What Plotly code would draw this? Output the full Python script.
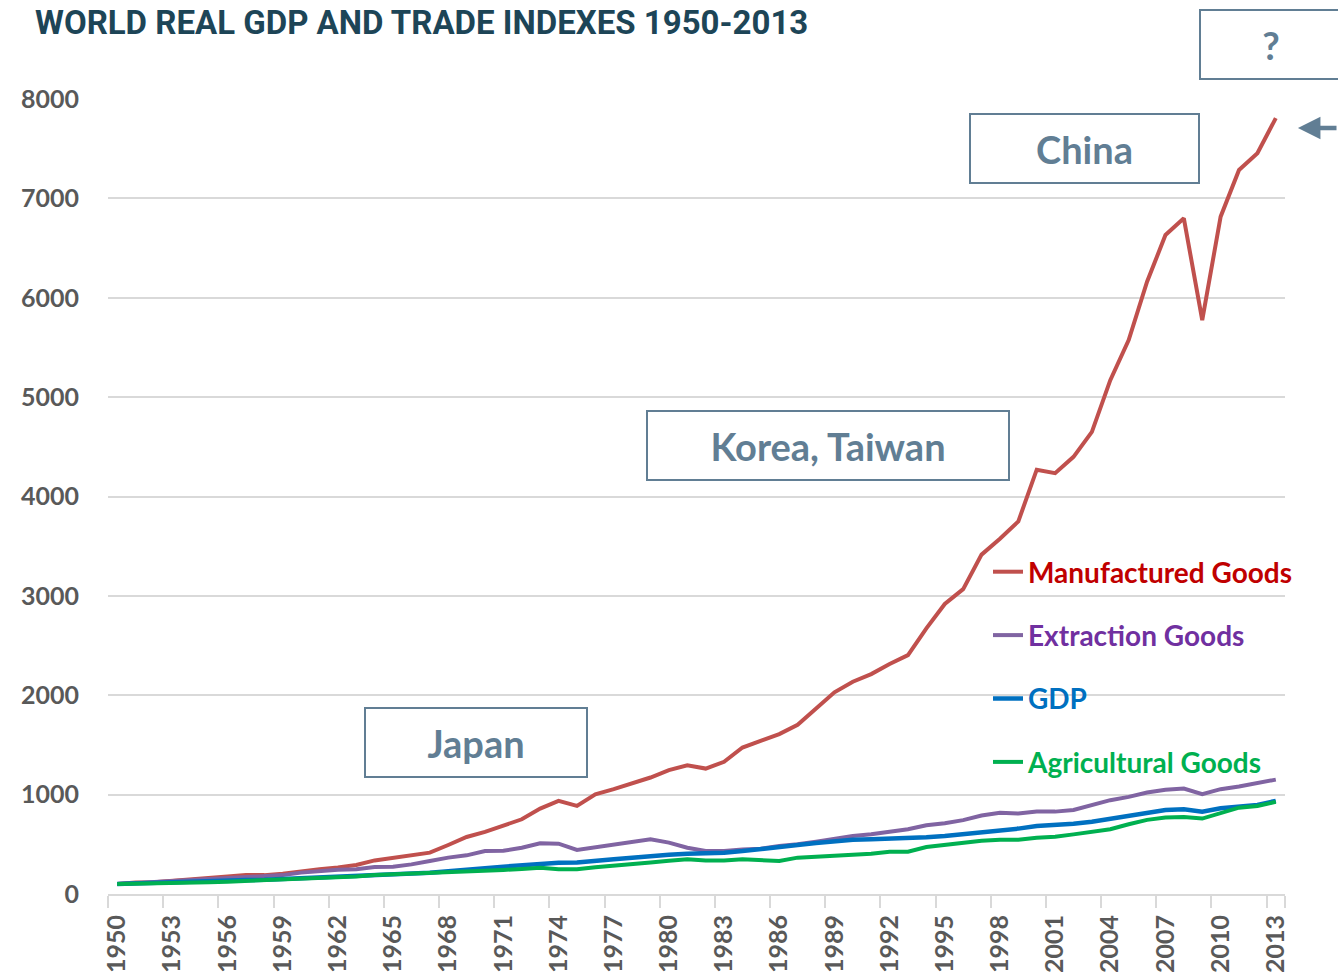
import plotly.graph_objects as go

years = list(range(1950, 2014))

manufactured = [
    100, 115, 118, 130, 142, 160, 175, 190, 190, 205,
    232, 250, 268, 292, 338, 365, 398, 416, 493, 574,
    625, 685, 752, 860, 937, 887, 1004, 1055, 1114, 1172,
    1246, 1296, 1262, 1330, 1474, 1542, 1609, 1703, 1860, 2030,
    2136, 2213, 2314, 2404, 2673, 2918, 3068, 3415, 3575, 3750,
    4270, 4235, 4399, 4650, 5171, 5574, 6161, 6631, 6799, 5775,
    6816, 7286, 7454, 7807,
]
extraction = [
    100, 110, 115, 125, 135, 150, 160, 172, 176, 190,
    215, 232, 244, 250, 272, 275, 298, 332, 366, 389,
    433, 435, 466, 510, 506, 443, 470, 490, 517, 551,
    517, 466, 433, 433, 449, 456, 484, 500, 527, 557,
    584, 601, 628, 651, 692, 712, 743, 790, 818, 809,
    829, 829, 846, 893, 944, 977, 1021, 1048, 1061, 1004,
    1055, 1081, 1111, 1151,
]
gdp = [
    100, 107, 112, 118, 122, 130, 135, 140, 143, 150,
    158, 165, 172, 180, 191, 199, 208, 215, 228, 248,
    260, 275, 290, 309, 314, 316, 338, 349, 365, 383,
    396, 406, 410, 416, 432, 449, 470, 493, 514, 534,
    545, 551, 556, 561, 572, 584, 600, 620, 638, 658,
    685, 695, 708, 728, 759, 786, 819, 846, 852, 829,
    862, 879, 896, 937,
]
agricultural = [
    100, 102, 104, 105, 110, 118, 124, 130, 136, 145,
    154, 162, 170, 176, 191, 197, 203, 208, 216, 225,
    233, 242, 252, 265, 248, 248, 270, 282, 298, 316,
    334, 349, 338, 338, 349, 343, 332, 366, 376, 389,
    389, 406, 426, 426, 473, 493, 510, 537, 546, 547,
    567, 577, 600, 625, 652, 702, 746, 769, 776, 759,
    819, 869, 886, 927,
]

series = [
    ("Manufactured Goods", manufactured, "#C0504D", "#C00000", 4),
    ("Extraction Goods", extraction, "#8064A2", "#7030A0", 4),
    ("GDP", gdp, "#0070C0", "#0070C0", 4.5),
    ("Agricultural Goods", agricultural, "#00B050", "#00B050", 4),
]

label_years = years[::3]
boundaries = [y - 0.5 for y in label_years]

fig = go.Figure()
for i, (name, vals, color, txt_color, width) in enumerate(series):
    fig.add_trace(go.Scatter(
        x=years, y=vals, mode="lines",
        name=f'<b><span style="color:{txt_color}">{name}</span></b>',
        legendgroup=f"g{i}",
        line=dict(color=color, width=width),
        hoverinfo="skip",
    ))

box_color = "#617E94"
box_font = dict(family="Lato, 'Open Sans', sans-serif", size=38, color=box_color)

def boxed(text, x, y, w, h):
    fig.add_annotation(
        text=f"<b>{text}</b>", xref="paper", yref="paper", x=x, y=y,
        xanchor="center", yanchor="middle", showarrow=False,
        width=w, height=h, bordercolor=box_color, borderwidth=2, borderpad=0,
        font=box_font, bgcolor="rgba(255,255,255,0)",
    )

boxed("Japan", 0.3127, 0.1906, 220, 67)
boxed("Korea, Taiwan", 0.6117, 0.5642, 360, 67)
boxed("China", 0.8297, 0.9377, 227, 67)
boxed("?", 0.9881, 1.0686, 140, 67)

fig.add_annotation(
    xref="paper", yref="paper", x=1.0110, y=0.9635, ax=48, ay=0,
    text="", showarrow=True, arrowhead=2, arrowsize=1, arrowwidth=4.5,
    arrowcolor=box_color,
)

fig.update_layout(
    width=1338, height=977,
    margin=dict(l=108, r=53, t=99, b=83),
    paper_bgcolor="white", plot_bgcolor="white",
    title=dict(
        text="<b>WORLD REAL GDP AND TRADE INDEXES 1950-2013</b>",
        x=35 / 1338, xanchor="left", y=1 - 22 / 977, yanchor="middle",
        font=dict(family="'Liberation Sans Narrow', 'Arial Narrow', Roboto, sans-serif",
                  size=33, color="#1D4557"),
    ),
    showlegend=True,
    legend=dict(
        x=(988 - 108) / 1177, y=(894 - 547) / 795, xanchor="left", yanchor="top",
        bgcolor="rgba(0,0,0,0)", borderwidth=0,
        font=dict(family="Lato, 'Open Sans', sans-serif", size=28),
        traceorder="grouped", tracegroupgap=24, itemwidth=30,
    ),
    xaxis=dict(
        range=[1949.5, 2013.5], tickmode="array", tickvals=label_years,
        ticktext=[f"<b>{y}</b>" for y in label_years],
        tickangle=-90, ticks="", showgrid=False, zeroline=False,
        showline=True, linecolor="#D9D9D9", linewidth=2,
        tickfont=dict(family="Lato, 'Open Sans', sans-serif", size=25, color="#595959"),
        ticklabelstandoff=9, automargin=False,
        minor=dict(tickmode="array", tickvals=boundaries + [2013.5], ticks="outside",
                   ticklen=12, tickcolor="#D9D9D9", tickwidth=1.5, showgrid=False),
        fixedrange=True,
    ),
    yaxis=dict(
        range=[0, 8000], tickmode="array", tickvals=list(range(0, 8001, 1000)),
        ticktext=[f"<b>{v}</b>" for v in range(0, 8001, 1000)],
        showgrid=True, gridcolor="#D9D9D9", gridwidth=1.5, zeroline=False,
        showline=False, ticks="", automargin=False,
        tickfont=dict(family="Lato, 'Open Sans', sans-serif", size=25, color="#595959"),
        ticklabelstandoff=28,
        fixedrange=True,
    ),
)

fig.write_html("out.html")
